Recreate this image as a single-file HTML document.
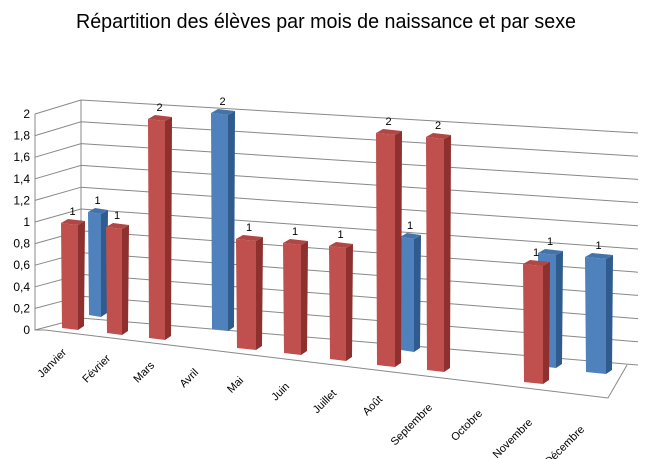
<!DOCTYPE html>
<html><head><meta charset="utf-8"><style>body{margin:0;background:#fff}svg{display:block}</style></head>
<body>
<svg width="650" height="459" xmlns="http://www.w3.org/2000/svg" font-family="Liberation Sans, sans-serif">
<text x="326" y="28" text-anchor="middle" font-size="20" fill="#000" textLength="500" lengthAdjust="spacingAndGlyphs">Répartition des élèves par mois de naissance et par sexe</text>
<g stroke="#888" stroke-width="1" fill="none" id="grid"></g>
<g id="bars"></g>
<g font-size="11" fill="#000" id="lbl"></g>
<script>
var ns="http://www.w3.org/2000/svg";
function el(p,t,a,txt){var e=document.createElementNS(ns,t);for(var k in a)e.setAttribute(k,a[k]);if(txt!=null)e.textContent=txt;document.getElementById(p).appendChild(e);return e;}
for(var i=0;i<=10;i++){
 var yf=330-i*21.6, yb=318-i*21.8, yr=365-i*23.2;
 el('grid','polyline',{points:"35,"+(yf)+" 81,"+yb+" 638,"+yr});
 var v=(i*0.2).toFixed(1).replace('.0','').replace('.',',');
 if(i==0)v='0';
 el('lbl','text',{x:30,y:yf+4,'text-anchor':'end','font-size':12},v);
}
el('grid','polyline',{points:"35,114 35,330 45,330 608,398 627,365"});
el('grid','line',{x1:81,y1:100,x2:81,y2:318});
var R=['#c0504d','#8e302d','#b04744'],B=['#4f81bd','#2f5b8e','#4473aa'];
var bars=[
[88,101,212,317,B,1],[400,414,237,352,B,1],[538,556,253,368,B,1],
[61,78,223,330,R,1],[106,122,227,335,R,1],[148,165,119,340,R,2],[211,228,113,331,B,2],
[236,256,239,350,R,1],[283,301,243,355,R,1],[329,346,246,361,R,1],[376,395,133,367,R,2],
[426,444,137,372,R,2],[523,543,264,384,R,1],[585,606,257,374,B,1]];
bars.forEach(function(b){
 var x1=b[0],x2=b[1],t=b[2],bt=b[3],c=b[4],d=7,u=4,sk=2;
 el('bars','polygon',{points:x2+","+(t+sk)+" "+(x2+d)+","+(t-u+sk)+" "+(x2+d-1)+","+(bt-u)+" "+x2+","+(bt),fill:c[1]});
 el('bars','polygon',{points:x1+","+t+" "+(x1+d)+","+(t-u)+" "+(x2+d)+","+(t-u+sk)+" "+x2+","+(t+sk),fill:c[2]});
 el('bars','polygon',{points:x1+","+t+" "+x2+","+(t+sk)+" "+x2+","+bt+" "+(x1+1)+","+(bt-2),fill:c[0]});
 el('lbl','text',{x:(x1+x2)/2+3,y:t-8,'text-anchor':'middle'},b[5]);
});
var m=[["Janvier",67,350],["Février",111,356],["Mars",155,363],["Avril",199,370],["Mai",244,378],["Juin",290,384],["Juillet",337,391],["Août",383,397],["Septembre",433,405],["Octobre",483,411],["Novembre",533,420],["Décembre",585,427]];
m.forEach(function(a){var y=a[2]+3;el('lbl','text',{x:a[1],y:y,'text-anchor':'end',transform:"rotate(-45 "+a[1]+" "+y+")"},a[0]);});
</script>
</svg>
</body></html>
